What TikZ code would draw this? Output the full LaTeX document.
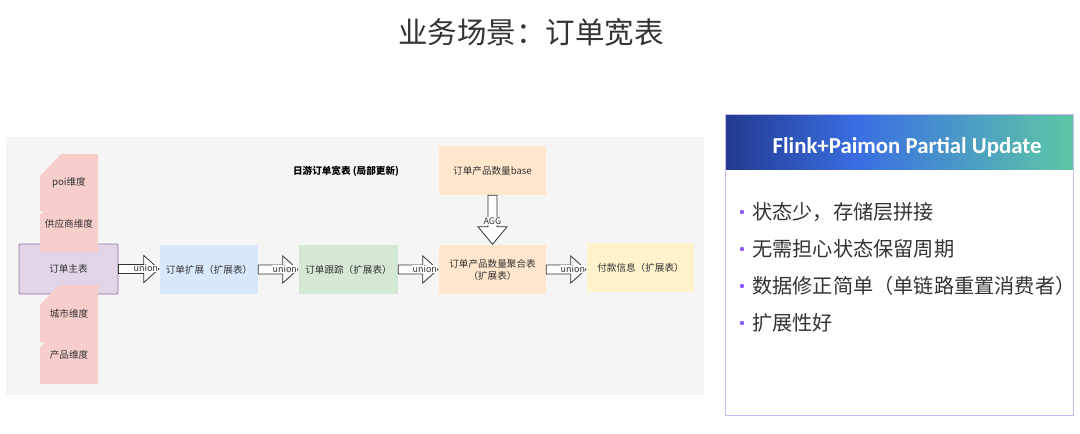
\documentclass[tikz,border=0pt]{standalone}
\usepackage{fontspec}
\setmainfont{Noto Sans CJK SC}
\newfontfamily\hdrfont{Carlito}
\usetikzlibrary{calc}
\definecolor{txt}{HTML}{333333}
\definecolor{bgray}{HTML}{F5F5F5}
\definecolor{mainfill}{HTML}{E1D5E7}
\definecolor{mainborder}{HTML}{9673A6}
\definecolor{pinkc}{HTML}{F8CECC}
\definecolor{bluec}{HTML}{DAE8FC}
\definecolor{greenc}{HTML}{D5E8D4}
\definecolor{orangec}{HTML}{FFE6CC}
\definecolor{yellowc}{HTML}{FFF2CC}
\definecolor{panelb}{HTML}{C8B9F2}
\definecolor{dotc}{HTML}{8B5CF6}
\definecolor{hdrA}{HTML}{223A8E}
\definecolor{hdrB}{HTML}{3A6EE2}
\definecolor{hdrC}{HTML}{5CC8A6}
\pgfdeclarehorizontalshading{hdrshade}{100bp}{color(0bp)=(hdrA); color(25bp)=(hdrA); color(44bp)=(hdrB); color(75bp)=(hdrC); color(100bp)=(hdrC)}
\tikzset{
  box/.style={inner sep=0pt, align=center, text=txt, font=\fontsize{9.6}{12}\selectfont},
  cardlbl/.style={inner sep=0pt, text=txt, font=\fontsize{9.6}{12}\selectfont},
  barrow/.style={draw=txt, fill=white, line width=0.8pt, line join=miter},
  arrlbl/.style={fill=white, inner sep=0.4pt, text=txt, font=\fontsize{9}{10}\selectfont},
  bullet/.style={anchor=west, inner sep=0pt, text=txt, font=\fontsize{20.2}{24}\selectfont}
}
\newcommand\unionarrow[2]{%
  \draw[barrow] let \p1=(#1.east), \p2=(#2.west) in
    (\x1,\y1+4.5pt) -- (\x2-16pt,\y1+4.5pt) -- (\x2-16pt,\y1+13.5pt) -- (\x2-1pt,\y1)
    -- (\x2-16pt,\y1-13.5pt) -- (\x2-16pt,\y1-4.5pt) -- (\x1,\y1-4.5pt) -- cycle;
  \path let \p1=(#1.east), \p2=(#2.west) in node[arrlbl] at (\x2-14pt,\y1+0.5pt) {union};}
\begin{document}
\begin{tikzpicture}[x=1pt,y=-1pt]
\useasboundingbox (0,0) rectangle (1080,434);
% title
\node[text=txt, font=\fontsize{29.5}{32}\selectfont, inner sep=0pt] (title) at (531,32) {业务场景：订单宽表};
% gray panel
\fill[bgray] (6,137) rectangle (704,395);
\node[inner sep=0pt, text=black, font=\fontsize{9.6}{11}\selectfont\bfseries] (gtitle) at (346,171) {日游订单宽表 (局部更新)};
% main box
\node[box, fill=mainfill, draw=mainborder, line width=0.8pt, rounded corners=1pt, minimum width=99pt, minimum height=50pt] (main) at (68.5,269) {订单主表};
% pink cards
\fill[pinkc] (40,215) -- (47,208) -- (98,208) -- (98,252) -- (40,252) -- cycle;
\fill[pinkc] (40,176) -- (61,154) -- (98,154) -- (98,211) -- (40,211) -- cycle;
\fill[pinkc] (40,347) -- (47,340) -- (98,340) -- (98,384) -- (40,384) -- cycle;
\fill[pinkc] (40,305) -- (59,285) -- (98,285) -- (98,342) -- (40,342) -- cycle;
\node[cardlbl] (poi) at (69,183) {poi维度};
\node[cardlbl] (sup) at (69,224) {供应商维度};
\node[cardlbl] (city) at (69,314) {城市维度};
\node[cardlbl] (prod) at (69,355) {产品维度};
% boxes
\node[box, fill=bluec, minimum width=98pt, minimum height=49pt] (ext) at (209,269.5) {订单扩展（扩展表）};
\node[box, fill=greenc, minimum width=99pt, minimum height=49pt] (track) at (348.5,269.5) {订单跟踪（扩展表）};
\node[box, fill=orangec, minimum width=107pt, minimum height=49pt] (agg) at (492.5,269.5) {订单产品数量聚合表\\（扩展表）};
\node[box, fill=orangec, minimum width=107pt, minimum height=49pt] (base) at (492.5,170.5) {订单产品数量base};
\node[box, fill=yellowc, minimum width=107pt, minimum height=49pt] (pay) at (640.5,267.5) {付款信息（扩展表）};
% union arrows
\unionarrow{main}{ext}
\unionarrow{ext}{track}
\unionarrow{track}{agg}
\unionarrow{agg}{pay}
% AGG arrow
\draw[barrow] let \p1=(base.south), \p2=(agg.north) in
  (\x1-4.5pt,\y1) -- (\x1-4.5pt,\y2+18pt) -- (\x1-14.5pt,\y2+18pt) -- (\x1,\y2+0.5pt)
  -- (\x1+14.5pt,\y2+18pt) -- (\x1+4.5pt,\y2+18pt) -- (\x1+4.5pt,\y1) -- cycle;
\path let \p1=(base.south), \p2=(agg.north) in node[arrlbl] (agglbl) at (\x1,\y2+23.5pt) {AGG};
% right panel
\shade[shading=hdrshade] (725,114) rectangle (1073,169);
\draw[panelb, line width=1pt] (725,114) rectangle (1073,415);
\node[inner sep=0pt, text=white, font=\hdrfont\bfseries\fontsize{22.8}{26}\selectfont] (hdr) at (907,147) {Flink+Paimon Partial Update};
\fill[dotc] (742,212) circle (2.2);
\fill[dotc] (742,249) circle (2.2);
\fill[dotc] (742,286) circle (2.2);
\fill[dotc] (742,323) circle (2.2);
\node[bullet] (b1) at (752,212) {状态少，存储层拼接};
\node[bullet] (b2) at (752,249) {无需担心状态保留周期};
\node[bullet] (b3) at (752,286) {数据修正简单（单链路重置消费者）};
\node[bullet] (b4) at (752,323) {扩展性好};
\end{tikzpicture}
\end{document}
